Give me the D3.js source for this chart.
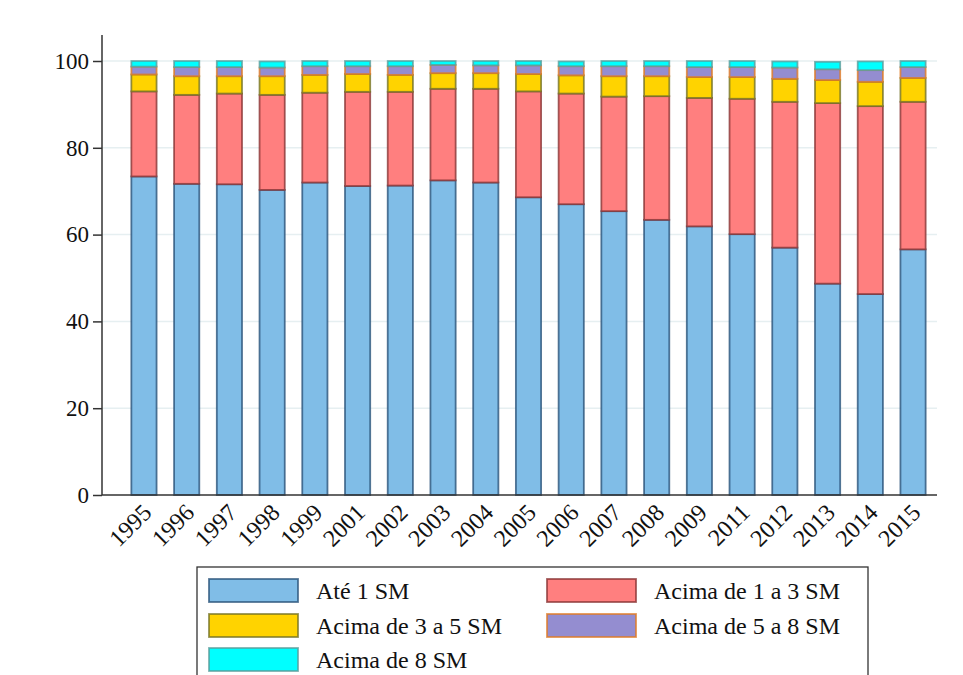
<!DOCTYPE html>
<html>
<head>
<meta charset="utf-8">
<script src="https://cdn.jsdelivr.net/npm/d3@7"></script>
<style>
  body { margin: 0; background: #FFFFFF; }
  text { font-family: "Liberation Serif", "Times New Roman", serif; }
</style>
</head>
<body>
<svg id="plot"></svg>
<script>
// Data (percent of workers by wage band)
const years = ["1995","1996","1997","1998","1999","2001","2002","2003","2004","2005",
               "2006","2007","2008","2009","2011","2012","2013","2014","2015"];
const ate1   = [73.4, 71.7, 71.6, 70.3, 72.0, 71.2, 71.3, 72.5, 72.0, 68.6,
                67.0, 65.4, 63.4, 61.9, 60.1, 57.0, 48.7, 46.3, 56.6];
const de1a3  = [19.6, 20.5, 20.9, 21.9, 20.7, 21.7, 21.6, 21.1, 21.6, 24.4,
                25.5, 26.4, 28.5, 29.6, 31.2, 33.6, 41.6, 43.3, 34.0];
const de3a5  = [3.9, 4.3, 4.0, 4.3, 4.1, 4.1, 3.9, 3.6, 3.6, 4.0,
                4.2, 4.7, 4.6, 4.8, 5.0, 5.3, 5.3, 5.6, 5.5];
const de5a8  = [1.8, 2.1, 2.1, 2.0, 2.0, 1.8, 2.0, 1.9, 1.8, 2.0,
                2.1, 2.3, 2.3, 2.3, 2.3, 2.6, 2.5, 2.7, 2.5];
const acima8 = [1.3, 1.4, 1.4, 1.4, 1.2, 1.2, 1.2, 0.9, 1.0, 1.0,
                1.1, 1.2, 1.2, 1.4, 1.4, 1.4, 1.7, 2.0, 1.4];
const yTicks = [0, 20, 40, 60, 80, 100];

const seriesNames = ["Até 1 SM", "Acima de 1 a 3 SM", "Acima de 3 a 5 SM", "Acima de 5 a 8 SM", "Acima de 8 SM"];
const fills   = ["#80BDE7", "#FF7F7F", "#FFD300", "#948DD0", "#00FFFF"];
const strokes = ["#2A547A", "#8A3636", "#767428", "#E07A24", "#5A9E9C"];

const width = 963, height = 675;
const svg = d3.select("#plot").attr("width", width).attr("height", height)
    .style("background", "#FFFFFF");

const table = years.map((y, i) => ({
    year: y, s0: ate1[i], s1: de1a3[i], s2: de3a5[i], s3: de5a8[i], s4: acima8[i]
}));
const keys = ["s0", "s1", "s2", "s3", "s4"];
const stacked = d3.stack().keys(keys)(table);

const axisLeftX = 102, axisRightX = 937;

let xScale = d3.scaleBand()
    .domain(years)
    .range([122.6, 934.4])
    .paddingInner(0.41)
    .paddingOuter(0.205);

let yScale = d3.scaleLinear()
    .domain([0, 100])
    .range([495, 61]);

// gridlines
svg.append("g").selectAll("line")
    .data(yTicks.filter(d => d > 0))
    .enter().append("line")
    .attr("x1", axisLeftX).attr("x2", axisRightX)
    .attr("y1", d => yScale(d)).attr("y2", d => yScale(d))
    .attr("stroke", "#E6EFF1").attr("stroke-width", 1.5);

// bars
svg.append("g").selectAll("g")
    .data(stacked)
    .enter().append("g")
    .attr("fill", (d, i) => fills[i])
    .attr("stroke", (d, i) => strokes[i])
    .selectAll("rect")
    .data(d => d)
    .enter().append("rect")
    .attr("x", d => xScale(d.data.year))
    .attr("y", d => yScale(d[1]))
    .attr("width", xScale.bandwidth())
    .attr("height", d => yScale(d[0]) - yScale(d[1]))
    .attr("stroke-width", 1.8)
    .attr("stroke-opacity", 0.8);

// y axis
const yAxis = svg.append("g")
    .attr("transform", `translate(${axisLeftX},0)`)
    .call(d3.axisLeft(yScale).tickValues(yTicks).tickSize(9).tickPadding(4));
yAxis.select(".domain").remove();
yAxis.selectAll(".tick line").attr("stroke", "#333").attr("stroke-width", 1.5);
yAxis.selectAll("text").style("font-size", "23px").attr("fill", "#111");
svg.append("line")
    .attr("x1", axisLeftX).attr("x2", axisLeftX)
    .attr("y1", 35).attr("y2", 495)
    .attr("stroke", "#333").attr("stroke-width", 1.5);

// x axis
const xAxis = svg.append("g")
    .attr("transform", `translate(0,495)`)
    .call(d3.axisBottom(xScale).tickSize(0).tickPadding(0));
xAxis.select(".domain").remove();
xAxis.selectAll("text")
    .style("font-size", "24px")
    .style("text-anchor", "end")
    .attr("fill", "#111")
    .attr("dy", "0")
    .attr("transform", "translate(9,19) rotate(-45)");
svg.append("line")
    .attr("x1", axisLeftX).attr("x2", axisRightX)
    .attr("y1", 495).attr("y2", 495)
    .attr("stroke", "#333").attr("stroke-width", 1.5);

// legend
const legend = svg.append("g").attr("class", "legend");
legend.append("rect")
    .attr("x", 197).attr("y", 567)
    .attr("width", 671).attr("height", 130)
    .attr("fill", "#FFFFFF")
    .attr("stroke", "#333").attr("stroke-width", 1.3);

const legendPos = [[209, 579], [547, 579], [209, 614], [547, 614], [209, 648]];
seriesNames.forEach((name, i) => {
    const [lx, ly] = legendPos[i];
    legend.append("rect")
        .attr("x", lx).attr("y", ly)
        .attr("width", 89).attr("height", 23)
        .attr("fill", fills[i])
        .attr("stroke", strokes[i])
        .attr("stroke-width", 1.8)
        .attr("stroke-opacity", 0.8);
    legend.append("text")
        .attr("x", lx + 107).attr("y", ly + 20)
        .style("font-size", "24px")
        .attr("fill", "#111")
        .text(name);
});
</script>
</body>
</html>
